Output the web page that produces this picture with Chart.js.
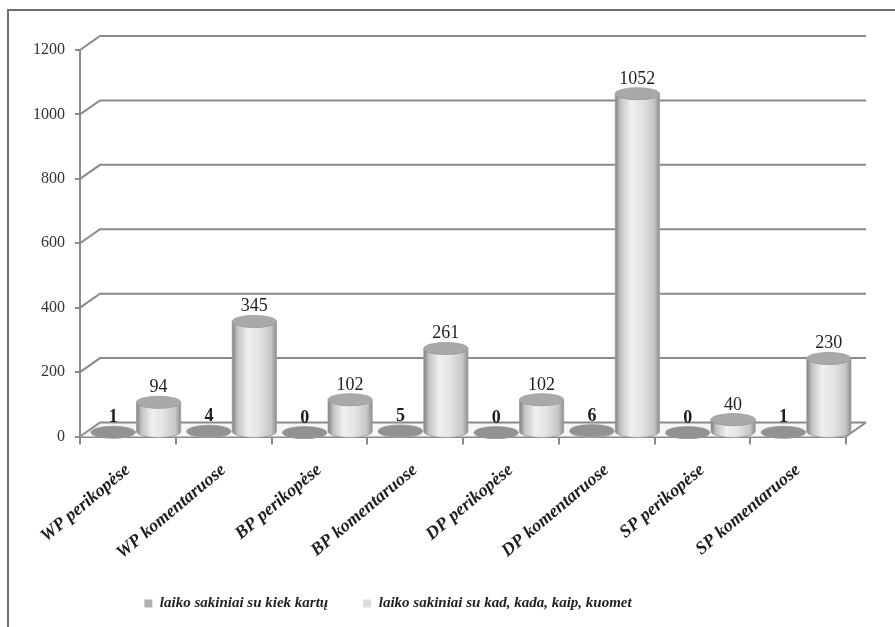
<!DOCTYPE html>
<html>
<head>
<meta charset="utf-8">
<script src="https://cdn.jsdelivr.net/npm/chart.js@4.4.0/dist/chart.umd.min.js"></script>
<style>
  html, body { margin: 0; padding: 0; background: #fff; }
</style>
</head>
<body>
<canvas id="chart" width="895" height="627"></canvas>
<script>
// data
const categories = ['WP perikopėse', 'WP komentaruose', 'BP perikopėse', 'BP komentaruose',
                    'DP perikopėse', 'DP komentaruose', 'SP perikopėse', 'SP komentaruose'];
const kiekKartu = [1, 4, 0, 5, 0, 6, 0, 1];
const kadKada = [94, 345, 102, 261, 102, 1052, 40, 230];
const yTicks = [0, 200, 400, 600, 800, 1000, 1200];
const seriesNames = ['laiko sakiniai su kiek kartų', 'laiko sakiniai su kad, kada, kaip, kuomet'];

const serif = "'Liberation Serif', 'DejaVu Serif', serif";
const lineGray = '#8a8a8a';

// back wall is pushed this far right/up, bars sit about half way in
const DEPTH_X = 20, DEPTH_Y = -14;
const BAR_DX = 8, BAR_DY = -4;
const RY = 6;

const bodyStops = [
    [[0, '#7d7d7d'], [0.12, '#bdbdbd'], [0.35, '#ececec'], [0.6, '#e0e0e0'], [0.88, '#c2c2c2'], [1, '#8a8a8a']],
    [[0, '#808080'], [0.12, '#c4c4c4'], [0.35, '#efefef'], [0.6, '#e4e4e4'], [0.88, '#c6c6c6'], [1, '#8e8e8e']]
];
const capColors = ['#929292', '#a9a9a9'];

function drawCylinder(ctx, cx, top, base, w, ds) {
    const rx = w / 2;
    const g = ctx.createLinearGradient(cx - rx, 0, cx + rx, 0);
    bodyStops[ds].forEach(s => g.addColorStop(s[0], s[1]));

    ctx.beginPath();
    ctx.moveTo(cx - rx, top);
    ctx.lineTo(cx - rx, base);
    ctx.ellipse(cx, base, rx, RY, 0, Math.PI, 0, true);
    ctx.lineTo(cx + rx, top);
    ctx.ellipse(cx, top, rx, RY, 0, 0, Math.PI, false);
    ctx.closePath();
    ctx.fillStyle = g;
    ctx.fill();
    ctx.strokeStyle = '#9a9a9a';
    ctx.lineWidth = 0.8;
    ctx.stroke();

    ctx.beginPath();
    ctx.ellipse(cx, top, rx, RY, 0, 0, Math.PI * 2);
    ctx.fillStyle = capColors[ds];
    ctx.fill();
    ctx.stroke();
}

const frame3d = {
    id: 'frame3d',
    afterLayout(chart) {
        // legend sits a bit left of centre in the original
        chart.legend.left -= 35;
        chart.legend.right -= 35;
    },
    beforeDraw(chart) {
        const ctx = chart.ctx;
        ctx.save();
        ctx.fillStyle = '#fff';
        ctx.fillRect(0, 0, chart.width, chart.height);
        ctx.strokeStyle = '#6e6e6e';
        ctx.lineWidth = 2;
        ctx.beginPath();
        ctx.moveTo(8, chart.height);
        ctx.lineTo(8, 10);
        ctx.lineTo(chart.width, 10);
        ctx.stroke();
        ctx.restore();
    },
    beforeDatasetsDraw(chart) {
        const { ctx, chartArea: a, scales: { y } } = chart;
        const y0 = y.getPixelForValue(0);
        ctx.save();
        // floor
        ctx.fillStyle = '#f6f6f6';
        ctx.beginPath();
        ctx.moveTo(a.left, y0);
        ctx.lineTo(a.right, y0);
        ctx.lineTo(a.right + DEPTH_X, y0 + DEPTH_Y);
        ctx.lineTo(a.left + DEPTH_X, y0 + DEPTH_Y);
        ctx.closePath();
        ctx.fill();
        ctx.strokeStyle = lineGray;
        ctx.lineWidth = 2;
        ctx.beginPath();
        ctx.moveTo(a.right, y0);
        ctx.lineTo(a.right + DEPTH_X, y0 + DEPTH_Y);
        yTicks.forEach(v => {
            const py = y.getPixelForValue(v);
            ctx.moveTo(a.left, py);
            ctx.lineTo(a.left + DEPTH_X, py + DEPTH_Y);
            ctx.lineTo(a.right + DEPTH_X, py + DEPTH_Y);
        });
        ctx.stroke();
        ctx.restore();
    },
    beforeDatasetDraw() {
        return false; // bars are drawn as cylinders below
    },
    afterDatasetsDraw(chart) {
        const ctx = chart.ctx;
        ctx.save();
        chart.data.datasets.forEach((ds, i) => {
            const meta = chart.getDatasetMeta(i);
            meta.data.forEach((bar, j) => {
                const p = bar.getProps(['x', 'y', 'base', 'width'], true);
                const cx = p.x + BAR_DX;
                const top = p.y + BAR_DY;
                drawCylinder(ctx, cx, top, p.base + BAR_DY, p.width, i);

                ctx.fillStyle = '#1e1e1e';
                ctx.font = (i === 0 ? 'bold ' : '') + '18px ' + serif;
                ctx.textAlign = 'center';
                ctx.textBaseline = 'alphabetic';
                ctx.fillText(String(ds.data[j]), cx, top - RY - 4);
            });
        });
        ctx.restore();
    }
};

new Chart(document.getElementById('chart'), {
    type: 'bar',
    data: {
        labels: categories,
        datasets: [
            { label: seriesNames[0], data: kiekKartu, backgroundColor: '#b0b0b0' },
            { label: seriesNames[1], data: kadKada, backgroundColor: '#dcdcdc' }
        ]
    },
    options: {
        responsive: false,
        animation: false,
        layout: { padding: { top: 50, right: 49, left: 0, bottom: 6 } },
        datasets: { bar: { categoryPercentage: 0.95, barPercentage: 0.97 } },
        plugins: {
            tooltip: { enabled: false },
            legend: {
                position: 'bottom',
                labels: {
                    boxWidth: 8,
                    boxHeight: 8,
                    padding: 35,
                    color: '#222',
                    font: { family: serif, size: 15, style: 'italic', weight: 'bold' }
                }
            }
        },
        scales: {
            x: {
                grid: { display: true, drawOnChartArea: false, drawTicks: true, tickLength: 8, color: lineGray, lineWidth: 2 },
                border: { display: true, color: lineGray, width: 2 },
                ticks: {
                    minRotation: 40, maxRotation: 40, padding: 15, color: '#1e1e1e',
                    font: { family: serif, size: 18, style: 'italic', weight: 'bold' }
                },
                afterFit(scale) { scale.height = 124.5; }
            },
            y: {
                min: 0, max: 1200,
                grid: { display: true, drawOnChartArea: false, drawTicks: true, tickLength: 5, color: lineGray, lineWidth: 2 },
                border: { display: true, color: lineGray, width: 2 },
                ticks: {
                    stepSize: 200, padding: 10, color: '#333',
                    font: { family: serif, size: 16 },
                    callback: v => String(v)
                },
                afterFit(scale) { scale.width = 80; }
            }
        }
    },
    plugins: [frame3d]
});
</script>
</body>
</html>
